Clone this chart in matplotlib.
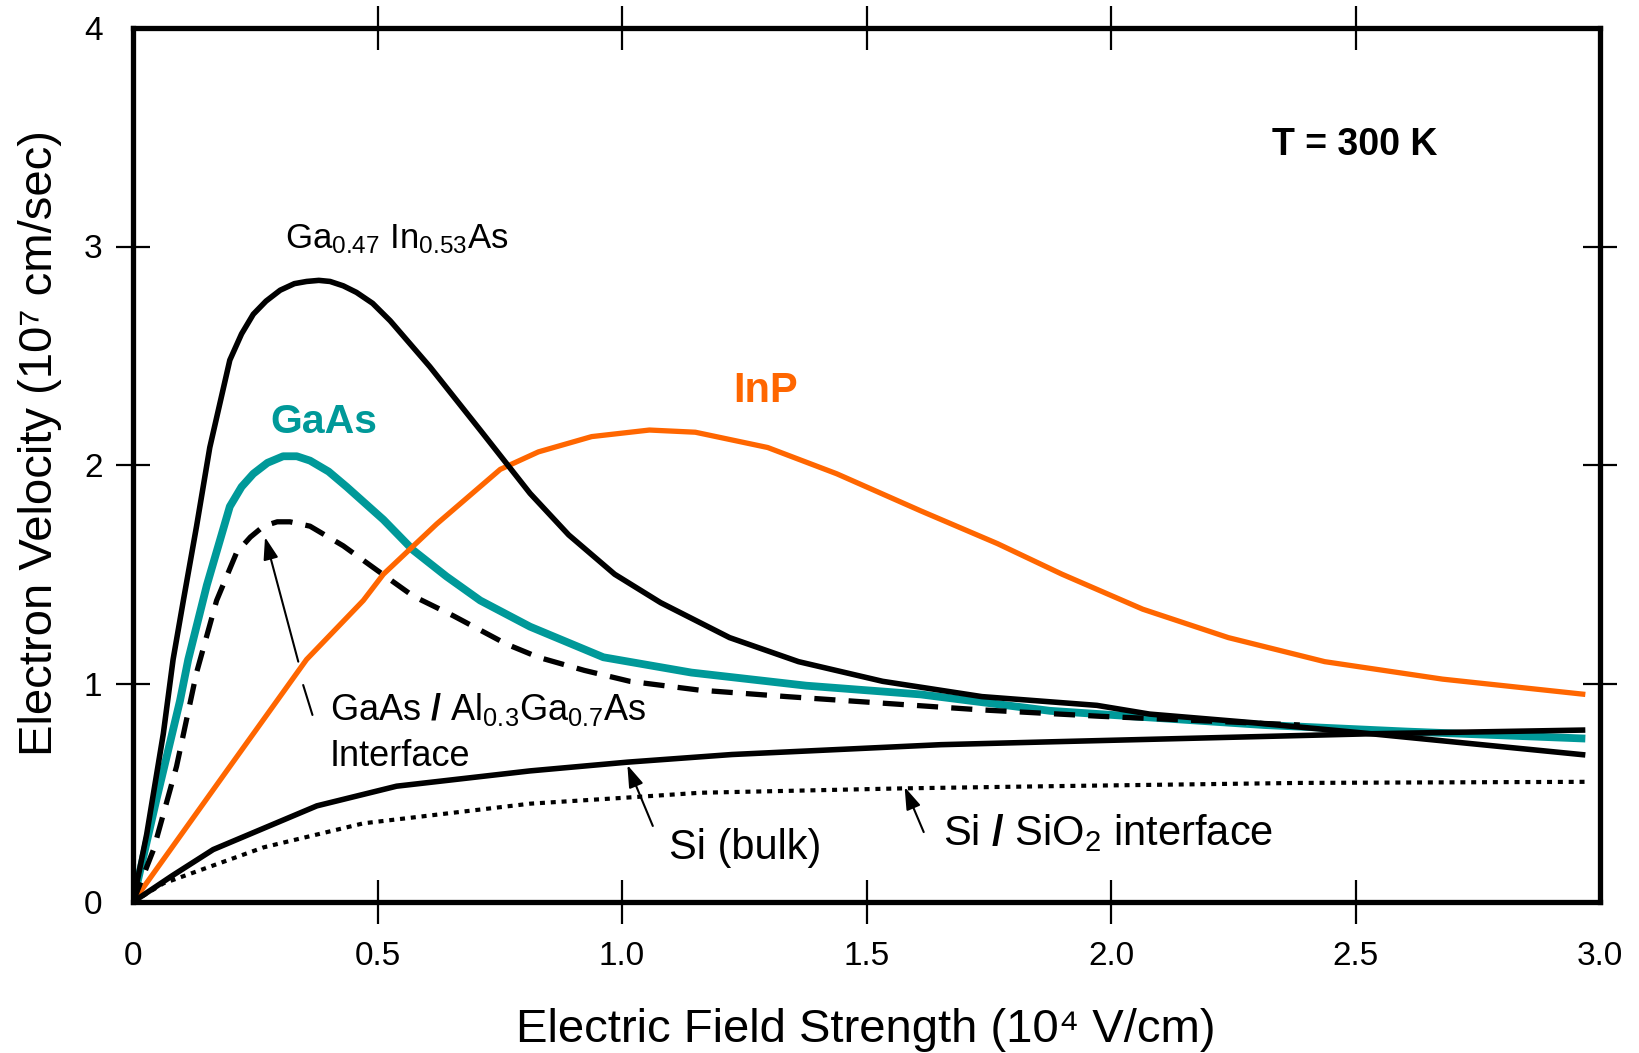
import matplotlib
matplotlib.use("Agg")
import matplotlib.pyplot as plt

plt.rcParams['font.family'] = ['Liberation Sans', 'DejaVu Sans']
plt.rcParams['mathtext.fontset'] = 'custom'
plt.rcParams['mathtext.rm'] = 'Liberation Sans'
plt.rcParams['mathtext.it'] = 'Liberation Sans:italic'
plt.rcParams['mathtext.bf'] = 'Liberation Sans:bold'

# ---------------- data ----------------
x_gainas = [0, 0.028, 0.062, 0.082, 0.103, 0.130, 0.157, 0.198, 0.222, 0.246, 0.272,
            0.301, 0.330, 0.355, 0.380, 0.403, 0.430, 0.457, 0.490, 0.526, 0.607,
            0.710, 0.812, 0.891, 0.985, 1.079, 1.220, 1.361, 1.533, 1.736, 1.971,
            2.079, 2.293, 2.532, 2.97]
y_gainas = [0, 0.31, 0.77, 1.11, 1.38, 1.72, 2.08, 2.48, 2.60, 2.69, 2.75,
            2.80, 2.83, 2.84, 2.845, 2.84, 2.82, 2.79, 2.74, 2.66, 2.45,
            2.16, 1.87, 1.68, 1.50, 1.37, 1.21, 1.10, 1.01, 0.94, 0.90,
            0.86, 0.82, 0.77, 0.673]

x_gaas = [0, 0.048, 0.096, 0.113, 0.151, 0.198, 0.222, 0.246, 0.275, 0.307, 0.335,
          0.362, 0.400, 0.437, 0.512, 0.573, 0.641, 0.710, 0.812, 0.962, 1.142,
          1.377, 1.611, 1.875, 2.313, 2.605, 2.97]
y_gaas = [0, 0.47, 0.92, 1.11, 1.45, 1.81, 1.90, 1.96, 2.01, 2.04, 2.04,
          2.02, 1.97, 1.90, 1.75, 1.61, 1.49, 1.38, 1.26, 1.12, 1.05,
          0.99, 0.95, 0.875, 0.81, 0.78, 0.748]

x_hetero = [0, 0.042, 0.089, 0.130, 0.171, 0.212, 0.240, 0.267, 0.295, 0.321, 0.362,
            0.430, 0.498, 0.573, 0.655, 0.764, 0.829, 0.923, 1.016, 1.157, 1.337,
            1.533, 1.729, 1.977, 2.386]
y_hetero = [0, 0.24, 0.62, 1.05, 1.38, 1.60, 1.67, 1.72, 1.74, 1.74, 1.72,
            1.63, 1.52, 1.40, 1.31, 1.18, 1.12, 1.06, 1.01, 0.97, 0.94,
            0.91, 0.88, 0.85, 0.81]

x_inp = [0, 0.198, 0.355, 0.471, 0.512, 0.621, 0.751, 0.829, 0.938, 1.056, 1.150,
         1.298, 1.439, 1.611, 1.768, 1.900, 2.065, 2.240, 2.437, 2.678, 2.97]
y_inp = [0, 0.62, 1.11, 1.38, 1.50, 1.73, 1.98, 2.06, 2.13, 2.16, 2.15,
         2.08, 1.96, 1.79, 1.64, 1.50, 1.34, 1.21, 1.10, 1.02, 0.95]

x_si = [0, 0.08, 0.164, 0.376, 0.539, 0.812, 1.011, 1.225, 1.652, 1.875, 2.532, 2.97]
y_si = [0, 0.12, 0.24, 0.44, 0.53, 0.60, 0.64, 0.675, 0.72, 0.733, 0.77, 0.787]

x_sio2 = [0, 0.062, 0.267, 0.471, 0.812, 1.011, 1.160, 1.574, 1.875, 2.386, 2.97]
y_sio2 = [0, 0.085, 0.25, 0.36, 0.45, 0.478, 0.50, 0.52, 0.53, 0.545, 0.55]

x_ticks = [0, 0.5, 1.0, 1.5, 2.0, 2.5, 3.0]
x_ticklabels = ['0', '0.5', '1.0', '1.5', '2.0', '2.5', '3.0']
y_ticks = [0, 1, 2, 3, 4]
y_ticklabels = ['0', '1', '2', '3', '4']

TEAL = '#009999'
ORANGE = '#FF6600'

# ---------------- figure ----------------
W, H = 1639, 1053
fig = plt.figure(figsize=(W / 100, H / 100), dpi=100)
ax = fig.add_axes([133 / W, 1 - 902 / H, (1600 - 133) / W, (902 - 28) / H])
ax.set_xlim(0, 3.0)
ax.set_ylim(0, 4)

ax.plot(x_gaas, y_gaas, color=TEAL, lw=5.6, solid_capstyle='butt',
        solid_joinstyle='round', zorder=3)
ax.plot(x_hetero, y_hetero, color='black', lw=3.8, dashes=(4.0, 2.5),
        dash_capstyle='butt', zorder=4)
ax.plot(x_gainas, y_gainas, color='black', lw=4.0, solid_capstyle='butt',
        solid_joinstyle='round', zorder=4)
ax.plot(x_inp, y_inp, color=ORANGE, lw=3.8, solid_capstyle='butt',
        solid_joinstyle='round', zorder=3)
ax.plot(x_si, y_si, color='black', lw=4.0, solid_capstyle='butt',
        solid_joinstyle='round', zorder=4)
ax.plot(x_sio2, y_sio2, color='black', lw=3.0, dashes=(1.2, 1.4),
        dash_capstyle='butt', zorder=4)

# spines and ticks
for s in ax.spines.values():
    s.set_linewidth(3.8)
    s.set_zorder(6)

ax.xaxis.remove_overlapping_locs = False
ax.yaxis.remove_overlapping_locs = False
ax.set_xticks(x_ticks)
ax.set_xticklabels(x_ticklabels)
ax.set_yticks(y_ticks)
ax.set_yticklabels(y_ticklabels)
ax.tick_params(axis='x', which='major', length=0, pad=28, labelsize=24)
ax.tick_params(axis='y', which='major', length=0, pad=22, labelsize=24)
ax.set_xticks(x_ticks[1:-1], minor=True)
ax.set_yticks(y_ticks[1:-1], minor=True)
ax.tick_params(axis='x', which='minor', direction='inout', length=31, width=1.6,
               top=True, bottom=True, labelbottom=False)
ax.tick_params(axis='y', which='minor', direction='inout', length=24.5, width=1.6,
               left=True, right=True, labelleft=False)

# axis labels
fig.text(866 / W, 11 / H, 'Electric Field Strength (10\u2074 V/cm)',
         ha='center', va='baseline', fontsize=34)
fig.text(40 / W, 1 - 443 / H, 'Electron Velocity (10\u2077 cm/sec)',
         ha='center', va='center', rotation=90, fontsize=34)

# annotations
ax.text(2.329, 3.42, 'T = 300 K', fontsize=27, fontweight='bold',
        ha='left', va='baseline')
ax.text(0.311, 2.993, r'Ga$_{\mathregular{0.47}}$ In$_{\mathregular{0.53}}$As',
        fontsize=25, ha='left', va='baseline')
ax.text(0.280, 2.146, 'GaAs', fontsize=29.5, fontweight='bold', color=TEAL,
        ha='left', va='baseline')
ax.text(1.227, 2.288, 'InP', fontsize=30, fontweight='bold', color=ORANGE,
        ha='left', va='baseline')
ax.text(0.403, 0.833,
        r'GaAs $\mathbf{/}$ Al$_{\mathregular{0.3}}$Ga$_{\mathregular{0.7}}$As',
        fontsize=26, ha='left', va='baseline')
ax.text(0.403, 0.622, 'Interface', fontsize=26, ha='left', va='baseline')
ax.text(1.096, 0.197, 'Si (bulk)', fontsize=30, ha='left', va='baseline')
ax.text(1.656, 0.261, r'Si $\mathbf{/}$ SiO$_{\mathregular{2}}$ interface',
        fontsize=30, ha='left', va='baseline')

arrow = dict(arrowstyle='-|>,head_length=0.9,head_width=0.3', lw=1.5,
             color='black', mutation_scale=15, shrinkA=0, shrinkB=0)
ax.annotate('', xy=(0.270, 1.67), xytext=(0.338, 1.10), arrowprops=arrow, zorder=5)
ax.annotate('', xy=(0.348, 0.993), xytext=(0.367, 0.856),
            arrowprops=dict(arrowstyle='-', lw=1.5, color='black',
                            shrinkA=0, shrinkB=0), zorder=5)
ax.annotate('', xy=(1.011, 0.627), xytext=(1.063, 0.348), arrowprops=arrow, zorder=5)
ax.annotate('', xy=(1.578, 0.526), xytext=(1.617, 0.32), arrowprops=arrow, zorder=5)

fig.savefig('out.png', dpi=100)
